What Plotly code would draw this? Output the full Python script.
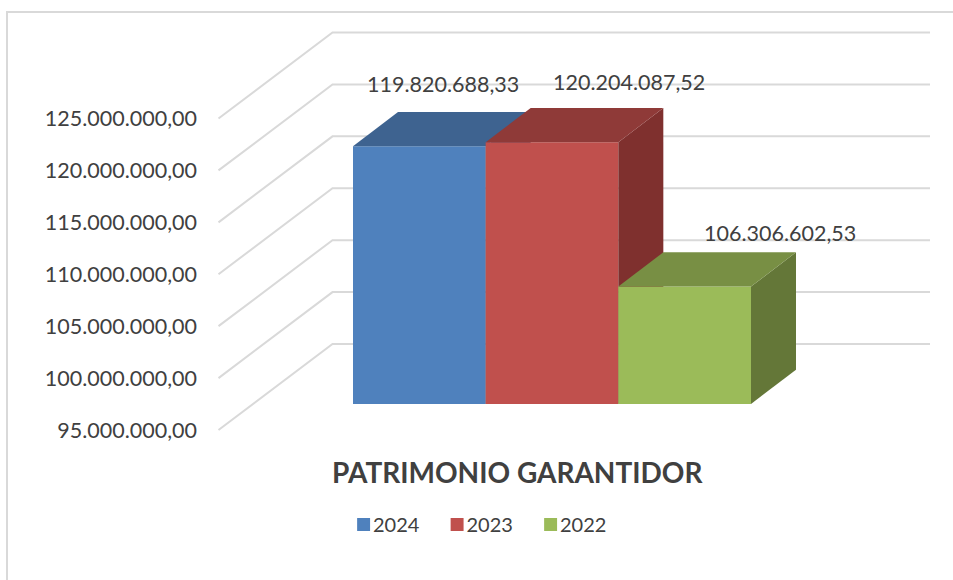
import plotly.graph_objects as go

# ---- data ----
years = ["2024", "2023", "2022"]
values = [119820688.33, 120204087.52, 106306602.53]
tick_vals = [95e6, 100e6, 105e6, 110e6, 115e6, 120e6, 125e6]
front_colors = ["#4F81BD", "#C0504D", "#9BBB59"]
top_colors = ["#3E6390", "#8F3A38", "#788F44"]
side_colors = ["#355578", "#7F302E", "#647738"]
label_shift_x = [23.5, 77, 95.5]
label_shift_y = [62.5, 60, 53.5]
title_text = "PATRIMONIO GARANTIDOR"

# ---- geometry (pixels of the 953x580 picture) ----
W, H = 953, 580
FONT = "Lato"
TXT = "#404040"
GRID = "#D9D9D9"
BAR_W_PX = 398 / 3
BAR0_CX = 353 + BAR_W_PX / 2
PX_PER_VAL = (430 - 118.5) / 30e6
BASE = tick_vals[0]
AX_BASE_PY = 430        # y pixel of the base value on the front edge of the floor
BAR_BASE_PY = 404       # y pixel of the base value on the bars
DX_BAR = 45 / BAR_W_PX
DV_BAR = 34.3 / PX_PER_VAL
DX_GRID = 114 / BAR_W_PX
DV_GRID = 86 / PX_PER_VAL
X_GRID0 = (218.5 - BAR0_CX) / BAR_W_PX
X_GRID_END = (930 - BAR0_CX) / BAR_W_PX


def yrange(base_py):
    return [BASE - (H - base_py) / PX_PER_VAL, BASE + base_py / PX_PER_VAL]


def fmt(v, dec=2):
    return f"{v:,.{dec}f}".replace(",", "#").replace(".", ",").replace("#", ".")


fig = go.Figure()

# back wall grid lines, with the diagonal on the side wall
for t in tick_vals:
    fig.add_trace(go.Scatter(
        x=[X_GRID0, X_GRID0 + DX_GRID, X_GRID_END],
        y=[t, t + DV_GRID, t + DV_GRID],
        mode="lines", line=dict(color=GRID, width=2),
        showlegend=False, hoverinfo="skip", xaxis="x", yaxis="y"))

# bars: one overlaid axis per bar so nearer faces hide farther ones in order
for i, (yr, v) in enumerate(zip(years, values)):
    ya = f"y{i + 2}"
    l, r = i - 0.5, i + 0.5
    fig.add_trace(go.Bar(
        x=[i], y=[v - BASE], base=[BASE], width=[1], name=yr,
        marker=dict(color=front_colors[i], line=dict(width=0)),
        xaxis="x", yaxis=ya))
    fig.add_trace(go.Scatter(
        x=[r, r + DX_BAR, r + DX_BAR, r, r],
        y=[BASE, BASE + DV_BAR, v + DV_BAR, v, BASE],
        mode="lines", fill="toself", fillcolor=side_colors[i],
        line=dict(width=0), showlegend=False, hoverinfo="skip",
        xaxis="x", yaxis=ya))
    fig.add_trace(go.Scatter(
        x=[l, r, r + DX_BAR, l + DX_BAR, l],
        y=[v, v, v + DV_BAR, v + DV_BAR, v],
        mode="lines", fill="toself", fillcolor=top_colors[i],
        line=dict(width=0), showlegend=False, hoverinfo="skip",
        xaxis="x", yaxis=ya))

annotations = [
    dict(x=i, y=v, xref="x", yref=f"y{i + 2}", text=fmt(v), showarrow=False,
         xshift=label_shift_x[i], yshift=label_shift_y[i],
         font=dict(family=FONT, size=21.5, color=TXT))
    for i, v in enumerate(values)
]
annotations.append(dict(
    x=517.5 / W, y=1 - 472 / H, xref="paper", yref="paper", text=f"<b>{title_text}</b>",
    showarrow=False, xanchor="center", yanchor="middle",
    font=dict(family=FONT, size=28, color=TXT)))

hidden = dict(visible=False, fixedrange=True)
layout_y = dict(
    yaxis=dict(range=yrange(AX_BASE_PY), tickvals=tick_vals,
               ticktext=[fmt(t) for t in tick_vals], showgrid=False, zeroline=False,
               showline=False, ticks="", anchor="free", position=197 / W,
               tickfont=dict(family=FONT, size=21.5, color=TXT), fixedrange=True),
)
for i in range(len(values)):
    layout_y[f"yaxis{i + 2}"] = dict(range=yrange(BAR_BASE_PY), overlaying="y", **hidden)

fig.update_layout(
    width=W, height=H, margin=dict(l=0, r=0, t=0, b=0),
    paper_bgcolor="white", plot_bgcolor="rgba(0,0,0,0)",
    barmode="overlay", showlegend=True,
    xaxis=dict(range=[-BAR0_CX / BAR_W_PX, (W - BAR0_CX) / BAR_W_PX], **hidden),
    legend=dict(orientation="h", x=342 / W, y=1 - 505 / H, xanchor="left", yanchor="top",
                font=dict(family=FONT, size=20, color=TXT), traceorder="normal",
                indentation=-9, entrywidth=57.5, entrywidthmode="pixels",
                bgcolor="rgba(0,0,0,0)"),
    annotations=annotations,
    shapes=[dict(type="rect", xref="paper", yref="paper", layer="below",
                 x0=7 / W, x1=1.2, y0=-0.2, y1=1 - 12 / H,
                 line=dict(color=GRID, width=2))],
    **layout_y,
)

# moves the legend swatches next to their texts, as in the reference
post = ("document.body.style.margin='0';document.documentElement.style.overflow='hidden';"
        "document.querySelectorAll('.legend .legendpoints').forEach(function(e){"
        "e.setAttribute('transform','translate(9,0) scale(1.08)');});")
fig.write_html("out.html", config=dict(displayModeBar=False), post_script=post)
